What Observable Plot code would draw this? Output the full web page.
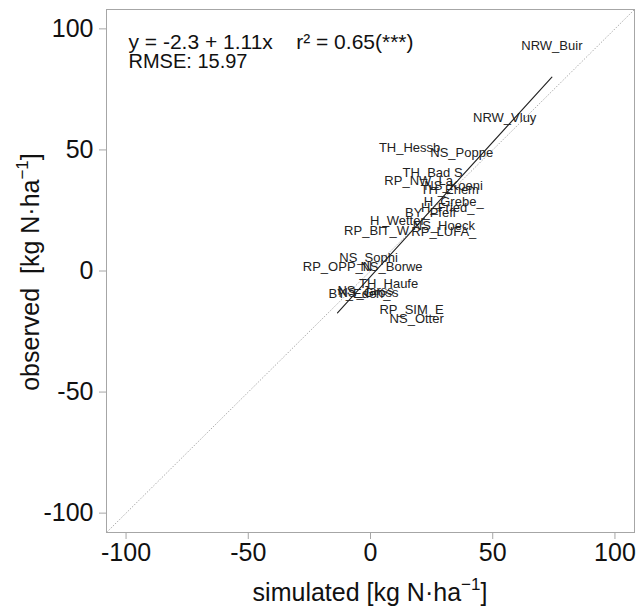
<!DOCTYPE html>
<html>
<head>
<meta charset="utf-8">
<script src="https://cdn.jsdelivr.net/npm/d3@7"></script>
<script src="https://cdn.jsdelivr.net/npm/@observablehq/plot@0.6"></script>
<style>
  html, body { margin: 0; padding: 0; background: #fff; }
  svg { display: block; }
</style>
</head>
<body>
<div id="chart"></div>
<script>
// ---- data ----
const sites = ["NRW_Buir","NRW_Vluy","TH_Hessb","NS_Poppe","TH_Bad S","RP_NW_La","NS_Koeni","TH_Ehem",
  "H_Grebe_","H_Fried_","BY_Pfeff","H_Wetter","NS_Hoeck","RP_BIT_W","RP_LUFA_","NS_Sophi",
  "RP_OPP_N","NS_Borwe","TH_Haufe","NS_Jarss","NS_Gross","BY_Eden_","RP_SIM_E","NS_Otter"];
const simulated = [74.2, 54.9, 16.0, 37.3, 25.4, 19.7, 34.0, 32.4,
  34.0, 31.6, 24.6, 11.0, 30.0, 2.5, 30.0, -0.8,
  -13.5, 8.6, 7.4, -2.0, -0.8, -4.5, 16.8, 18.9];
const observed = [93.2, 63.1, 50.7, 49.0, 40.4, 37.1, 35.0, 33.4,
  28.5, 26.0, 23.9, 20.6, 18.6, 16.5, 16.0, 5.4,
  1.6, 1.6, -5.4, -8.2, -9.0, -9.5, -16.1, -19.8];
const intercept = -2.3;
const slope = 1.11;
const eqLines = ["y = -2.3 + 1.11x    r\u00B2 = 0.65(***)", "RMSE: 15.97"];
const ticks = [-100, -50, 0, 50, 100];
const lim = [-108, 108];

const table = sites.map((s, i) => ({site: s, sim: simulated[i], obs: observed[i]}));
const ext = d3.extent(simulated);
const fit = ext.map(x => ({x, y: intercept + slope * x}));

const font = "Liberation Sans, Arial, Helvetica, sans-serif";
const gray = "#a6a6a6";
const fmt = d => String(d);

const svg = Plot.plot({
  width: 636,
  height: 610,
  marginLeft: 106,
  marginRight: 2,
  marginTop: 9,
  marginBottom: 78,
  style: {fontFamily: font, background: "#fff", color: "#111"},
  x: {domain: lim},
  y: {domain: lim},
  marks: [
    Plot.link([0], {x1: () => lim[0], y1: () => lim[0], x2: () => lim[1], y2: () => lim[1],
      stroke: "#999", strokeWidth: 0.8, strokeDasharray: "1.5,1.5"}),
    Plot.line(fit, {x: "x", y: "y", stroke: "#222", strokeWidth: 1.1}),
    Plot.text(table, {x: "sim", y: "obs", text: "site", fontSize: 13, fill: "#222",
      textAnchor: "middle", lineAnchor: "middle"}),
    Plot.text([eqLines[0]], {frameAnchor: "top-left", dx: 22, dy: 33, fontSize: 21,
      textAnchor: "start", lineAnchor: "middle", fill: "#111"}),
    Plot.text([eqLines[1]], {frameAnchor: "top-left", dx: 22, dy: 52, fontSize: 20,
      textAnchor: "start", lineAnchor: "middle", fill: "#111"}),
    Plot.frame({stroke: gray, strokeWidth: 1}),
    Plot.axisX({ticks, tickFormat: fmt, tickSize: 7, tickPadding: 4, fontSize: 25, stroke: gray, label: null, fill: "#111"}),
    Plot.axisY({ticks, tickFormat: fmt, tickSize: 7, tickPadding: 6, fontSize: 25, stroke: gray, label: null, fill: "#111"})
  ]
});

const s = d3.select(svg);
// x title
const xt = s.append("text")
  .attr("x", 370).attr("y", 601)
  .attr("text-anchor", "middle")
  .attr("font-family", font).attr("font-size", 25).attr("fill", "#111");
xt.append("tspan").text("simulated [kg N\u00B7ha");
xt.append("tspan").attr("font-size", 17).attr("dy", -11).text("\u22121");
xt.append("tspan").attr("dy", 11).text("]");

// y title
const yt = s.append("text")
  .attr("transform", "translate(39,272) rotate(-90)")
  .attr("text-anchor", "middle")
  .attr("style", "white-space: pre")
  .attr("font-family", font).attr("font-size", 25).attr("fill", "#111");
yt.append("tspan").text("observed  [kg N\u00B7ha");
yt.append("tspan").attr("font-size", 17).attr("dy", -11).text("\u22121");
yt.append("tspan").attr("dy", 11).text("]");

document.getElementById("chart").appendChild(svg);
</script>
</body>
</html>
